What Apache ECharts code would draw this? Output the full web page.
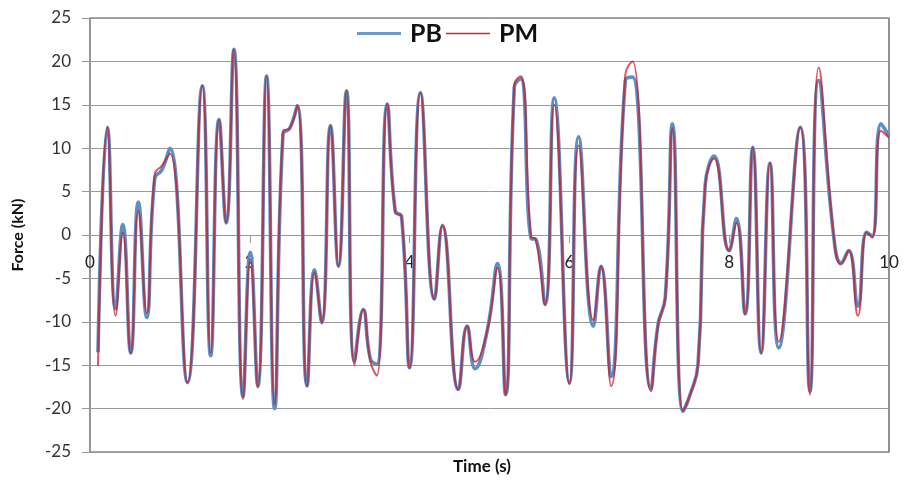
<!DOCTYPE html>
<html>
<head>
<meta charset="utf-8">
<script src="https://cdn.jsdelivr.net/npm/echarts@6/dist/echarts.min.js"></script>
<style>
  html, body { margin: 0; padding: 0; background: #fff; }
  #chart { width: 904px; height: 483px; }
</style>
</head>
<body>
<div id="chart"></div>
<script>
// Sample times (s) at the turning points of the force history
const time = [
  0.10, 0.217, 0.32, 0.41, 0.51, 0.605, 0.71, 0.81, 0.90, 1.0,
  1.22, 1.405, 1.51, 1.615, 1.705, 1.80, 1.915, 2.006, 2.10, 2.21,
  2.31, 2.415, 2.50, 2.595, 2.716, 2.81, 2.90, 3.01, 3.11, 3.21,
  3.31, 3.42, 3.51, 3.59, 3.72, 3.82, 3.90, 4.0, 4.135, 4.31,
  4.41, 4.61, 4.72, 4.82, 4.97, 5.10, 5.20, 5.31, 5.39, 5.52,
  5.58, 5.695, 5.81, 6.0, 6.115, 6.30, 6.395, 6.52, 6.70, 6.79,
  7.02, 7.11, 7.20, 7.29, 7.42, 7.51, 7.61, 7.70, 7.81, 8.0,
  8.09, 8.20, 8.295, 8.40, 8.51, 8.62, 8.89, 9.01, 9.12, 9.31,
  9.40, 9.495, 9.61, 9.72, 9.79, 9.90, 10.0
];

// Force PB (kN)
const forcePB = [
  -13.5, 12.4, -8.5, 1.2, -13.6, 3.8, -9.5, 6.5, 7.5, 10.0,
  -17.0, 17.2, -13.9, 13.3, 1.4, 21.4, -18.6, -2.0, -17.4, 18.3,
  -20.0, 11.6, 12.3, 14.9, -17.4, -4.0, -10.1, 12.6, -3.6, 16.6,
  -14.5, -8.6, -14.3, -14.9, 15.1, 2.8, 2.1, -15.3, 16.4, -7.4,
  1.0, -17.8, -10.5, -15.4, -11.1, -3.3, -18.4, 17.0, 18.0, -0.4,
  -0.5, -8.0, 15.8, -17.0, 11.3, -10.5, -3.6, -16.3, 17.8, 18.2,
  -17.7, -10.3, -7.2, 12.8, -20.3, -18.4, -14.9, 5.8, 9.1, -1.8,
  1.9, -9.1, 10.1, -13.6, 8.3, -13.0, 12.4, -18.0, 17.8, -0.3,
  -3.2, -1.8, -8.2, 0.3, -0.1, 12.8, 11.4
];

// Force PM (kN)
const forcePM = [
  -15.1, 12.4, -9.3, 0.3, -13.6, 2.8, -9.0, 7.0, 8.0, 9.4,
  -17.0, 17.2, -13.6, 13.3, 1.4, 21.4, -18.9, -2.8, -17.6, 18.3,
  -19.5, 11.9, 12.3, 14.9, -17.4, -4.3, -10.1, 12.6, -3.6, 16.6,
  -15.0, -8.6, -14.6, -16.2, 15.1, 2.6, 2.1, -15.3, 16.4, -7.4,
  1.2, -17.8, -10.5, -14.6, -11.1, -3.8, -18.4, 17.3, 18.3, -0.2,
  -0.5, -8.0, 15.0, -17.2, 10.3, -9.8, -3.6, -17.4, 18.5, 20.0,
  -18.0, -10.3, -7.2, 12.3, -20.3, -18.4, -14.9, 5.8, 8.8, -1.8,
  1.4, -9.1, 10.1, -13.6, 8.3, -12.3, 12.4, -18.4, 19.3, -0.3,
  -3.4, -1.8, -9.3, 0.3, -0.3, 12.0, 11.2
];

const xTicks = { min: 0, max: 10, step: 2 };
const yTicks = { min: -25, max: 25, step: 5 };

const pairs = (vals) => time.map((t, i) => [t, vals[i]]);

const chart = echarts.init(document.getElementById('chart'), null, { renderer: 'canvas' });

const gridColor = '#9a9a9a';
const labelFont = 'Lato, "Liberation Sans", sans-serif';
const gridTop = 18, gridBottom = 31;
const plotHeight = 483 - gridTop - gridBottom;

chart.setOption({
  animation: false,
  backgroundColor: '#ffffff',
  grid: {
    left: 90, right: 15, top: gridTop, bottom: gridBottom,
    show: true, borderColor: '#4a4a4a', borderWidth: 1.2
  },
  legend: {
    top: 16,
    left: 352,
    itemWidth: 44,
    itemHeight: 10,
    itemGap: 4,
    textStyle: {
      fontFamily: labelFont, fontWeight: 'bold', fontSize: 25, color: '#111',
      padding: [0, 0, 0, 4]
    },
    data: [
      { name: 'PB', icon: 'path://M0,0 L44,0 L44,3 L0,3 Z' },
      { name: 'PM', icon: 'path://M0,0 L44,0 L44,1.5 L0,1.5 Z' }
    ]
  },
  xAxis: {
    type: 'value',
    min: xTicks.min, max: xTicks.max, interval: xTicks.step,
    position: 'bottom',
    // axis line drawn through the zero force level
    offset: -plotHeight * (0 - yTicks.min) / (yTicks.max - yTicks.min),
    axisLine: { show: true, onZero: false, lineStyle: { color: gridColor, width: 1 } },
    axisTick: { show: true, length: 8, lineStyle: { color: gridColor } },
    axisLabel: { margin: 19, fontFamily: labelFont, fontSize: 17, color: '#222' },
    splitLine: { show: false }
  },
  yAxis: {
    type: 'value',
    min: yTicks.min, max: yTicks.max, interval: yTicks.step,
    name: 'Force (kN)',
    nameLocation: 'middle',
    nameGap: 64,
    nameTextStyle: { fontFamily: labelFont, fontWeight: 'bold', fontSize: 16, color: '#111' },
    axisLine: { show: true, lineStyle: { color: gridColor } },
    axisTick: { show: true, length: 8, lineStyle: { color: gridColor } },
    axisLabel: { margin: 19, fontFamily: labelFont, fontSize: 17, color: '#333' },
    splitLine: { show: true, lineStyle: { color: gridColor, width: 1 } }
  },
  graphic: [{
    type: 'text',
    left: 453, top: 458,
    style: { text: 'Time (s)', font: 'bold 17px Lato, "Liberation Sans", sans-serif', fill: '#111' }
  }],
  series: [
    {
      name: 'PB', type: 'line', data: pairs(forcePB),
      smooth: 0.5, showSymbol: false,
      lineStyle: { color: '#5E8FC2', width: 3.6 },
      itemStyle: { color: '#6C9CC6' },
      z: 2
    },
    {
      name: 'PM', type: 'line', data: pairs(forcePM),
      smooth: 0.5, showSymbol: false,
      lineStyle: { color: '#C8182A', width: 2, opacity: 0.72 },
      itemStyle: { color: '#D4202C' },
      z: 3
    }
  ]
});
</script>
</body>
</html>
